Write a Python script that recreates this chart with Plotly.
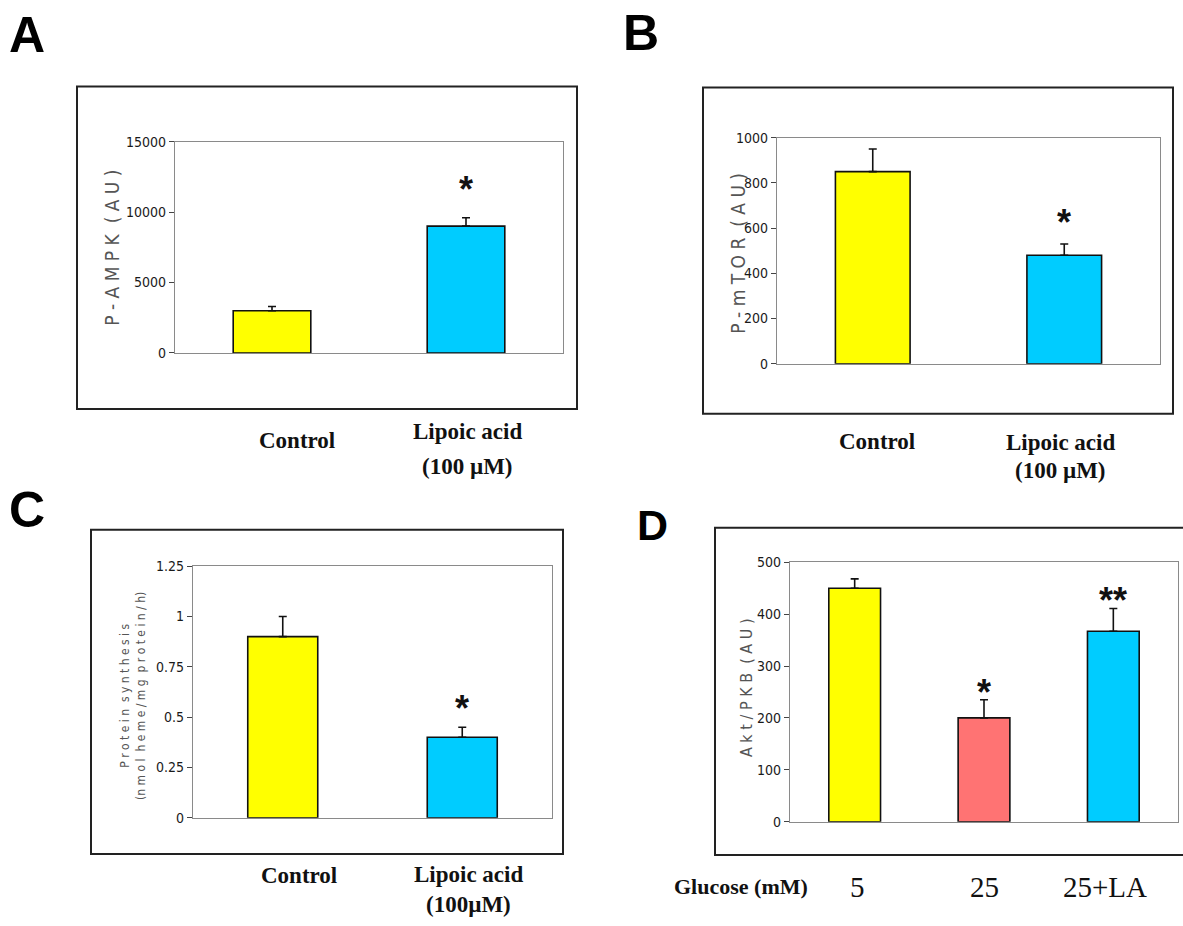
import plotly.graph_objects as go

W, H = 1183, 926

# ---------------- data ----------------
a_categories = ["Control", "Lipoic acid<br>(100 µM)"]
a_values = [3000, 9000]
a_errors = [300, 600]
a_marks = ["", "*"]

b_categories = ["Control", "Lipoic acid<br>(100 µM)"]
b_values = [850, 480]
b_errors = [100, 50]
b_marks = ["", "*"]

c_categories = ["Control", "Lipoic acid<br>(100µM)"]
c_values = [0.9, 0.4]
c_errors = [0.1, 0.05]
c_marks = ["", "*"]

d_categories = ["5", "25", "25+LA"]
d_values = [450, 200, 367]
d_errors = [18, 35, 44]
d_marks = ["", "*", "**"]

a_ticks = [0, 5000, 10000, 15000]
a_ticklabels = ["0", "5000", "10000", "15000"]
b_ticks = [0, 200, 400, 600, 800, 1000]
b_ticklabels = ["0", "200", "400", "600", "800", "1000"]
c_ticks = [0, 0.25, 0.5, 0.75, 1, 1.25]
c_ticklabels = ["0", "0.25", "0.5", "0.75", "1", "1.25"]
d_ticks = [0, 100, 200, 300, 400, 500]
d_ticklabels = ["0", "100", "200", "300", "400", "500"]

YELLOW = "#FFFF00"
CYAN = "#00CCFF"
SALMON = "#FF7373"

fig = go.Figure()


def px(x):
    return x / W


def py(y):
    return 1 - y / H


panels = [
    dict(key="", cats=a_categories, vals=a_values, errs=a_errors, marks=a_marks,
         colors=[YELLOW, CYAN], ticks=a_ticks, ticktext=a_ticklabels, rng=[0, 15000],
         dom_x=[175, 563], dom_y=[351, 136], width=0.4, shift=6,
         lab_dx=[25, 1], lab_y=[[440], [431, 467]]),
    dict(key="2", cats=b_categories, vals=b_values, errs=b_errors, marks=b_marks,
         colors=[YELLOW, CYAN], ticks=b_ticks, ticktext=b_ticklabels, rng=[0, 1000],
         dom_x=[777, 1160], dom_y=[362, 132], width=0.39, shift=-1,
         lab_dx=[4, -4], lab_y=[[441], [442, 471]]),
    dict(key="3", cats=c_categories, vals=c_values, errs=c_errors, marks=c_marks,
         colors=[YELLOW, CYAN], ticks=c_ticks, ticktext=c_ticklabels, rng=[0, 1.25],
         dom_x=[193, 552], dom_y=[824, 568], width=0.39, shift=-4,
         lab_dx=[16, 6], lab_y=[[883], [882, 912]]),
    dict(key="4", cats=d_categories, vals=d_values, errs=d_errors, marks=d_marks,
         colors=[YELLOW, SALMON, CYAN], ticks=d_ticks, ticktext=d_ticklabels, rng=[0, 500],
         dom_x=[790, 1178], dom_y=[828, 564], width=0.4, shift=-15,
         lab_dx=[3, 0, -8], lab_y=[[894], [894], [894]]),
]

tick_font = dict(family="DejaVu Sans Condensed, Liberation Sans Narrow, Liberation Sans", size=14, color="#1a1a1a")

for p in panels:
    k = p["key"]
    xa = "x" + k
    ya = "y" + k
    n = len(p["cats"])
    fig.add_trace(go.Bar(
        x=p["cats"], y=p["vals"], xaxis=xa, yaxis=ya,
        width=p["width"],
        marker=dict(color=p["colors"], line=dict(color="#111", width=1.6)),
        error_y=dict(type="data", symmetric=False, array=p["errs"],
                     arrayminus=[0] * len(p["errs"]), color="#111",
                     thickness=1.6, width=4),
        showlegend=False, hoverinfo="skip",
    ))
    xname = "xaxis" + k
    yname = "yaxis" + k
    fig.layout[xname] = dict(
        type="category", range=[-0.5, n - 0.5],
        domain=[px(p["dom_x"][0]), px(p["dom_x"][1])],
        anchor=ya, showticklabels=False, ticks="",
        showline=True, mirror=True, linecolor="#8a8a8a", linewidth=1.2,
        showgrid=False, zeroline=False, fixedrange=True,
    )
    fig.layout[yname] = dict(
        domain=[py(p["dom_y"][0]), py(p["dom_y"][1])],
        anchor=xa, range=p["rng"], tickvals=p["ticks"], ticktext=p["ticktext"],
        ticks="outside", ticklen=5, tickcolor="#444", tickwidth=1,
        showline=True, mirror=True, linecolor="#8a8a8a", linewidth=1.2,
        showgrid=False, zeroline=False, tickfont=tick_font, fixedrange=True,
    )

    # significance marks (x given as category index)
    for i, (v, e, m) in enumerate(zip(p["vals"], p["errs"], p["marks"])):
        if m:
            fig.add_annotation(x=i, y=v + e, xref=xa, yref=ya, text="<b>" + m + "</b>",
                               showarrow=False, xanchor="center", yanchor="bottom",
                               yshift=p["shift"],
                               font=dict(family="Liberation Sans", size=36, color="#111"))

    # category labels below the panel boxes
    for i, c in enumerate(p["cats"]):
        lines = c.split("<br>")
        for line, ly in zip(lines, p["lab_y"][i]):
            if k == "4":
                txt = line
                fnt = dict(family="Liberation Serif, Times New Roman", size=29, color="#111")
            else:
                txt = "<b>" + line + "</b>"
                fnt = dict(family="Liberation Serif, Times New Roman", size=23, color="#111")
            fig.add_annotation(x=i, y=py(ly), xref=xa, yref="paper", text=txt,
                               xshift=p["lab_dx"][i],
                               showarrow=False, xanchor="center", yanchor="middle", font=fnt)

# Glucose label
fig.add_annotation(x=px(810), y=py(894), xref="paper", yref="paper", text="<b>Glucose (mM)</b>",
                   showarrow=False, xanchor="right", yanchor="middle",
                   font=dict(family="Liberation Serif, Times New Roman", size=22, color="#111"))

# Y-axis titles
title_font = dict(family="DejaVu Sans Condensed, Liberation Sans Narrow, Liberation Sans", size=19, color="#555")
fig.add_annotation(x=px(112), y=py(244), xref="paper", yref="paper", text="P - A M P K  ( A U )",
                   textangle=-90, showarrow=False, xanchor="center", yanchor="middle",
                   font=title_font)
fig.add_annotation(x=px(738), y=py(250), xref="paper", yref="paper", text="P - m T O R  ( A U )",
                   textangle=-90, showarrow=False, xanchor="center", yanchor="middle",
                   font=title_font)
fig.add_annotation(x=px(133), y=py(700), xref="paper", yref="paper",
                   text="P r o t e i n  s y n t h e s i s<br>(n m o l  h e m e / m g  p r o t e i n / h)",
                   textangle=-90, showarrow=False, xanchor="center", yanchor="middle",
                   font=dict(title_font, size=12))
fig.add_annotation(x=px(746), y=py(692), xref="paper", yref="paper", text="A k t / P K B  ( A U )",
                   textangle=-90, showarrow=False, xanchor="center", yanchor="middle",
                   font=dict(title_font, size=16))

# Panel letters
for letter, lx, ly, sz in [("A", 27, 27, 50), ("B", 641, 25, 50), ("C", 27, 511, 50), ("D", 652, 526, 43)]:
    fig.add_annotation(x=px(lx), y=py(ly), xref="paper", yref="paper", text="<b>" + letter + "</b>",
                       showarrow=False, xanchor="center", yanchor="middle",
                       font=dict(family="Liberation Sans, Arial", size=sz, color="#000"))

# Outer panel boxes
for x0, y0, x1, y1 in [(77, 80, 577, 408), (703, 81, 1173, 413), (91, 531, 563, 861), (715, 529, 1190, 862)]:
    fig.add_shape(type="rect", xref="paper", yref="paper",
                  x0=px(x0), x1=px(x1), y0=py(y0), y1=py(y1),
                  line=dict(color="#222", width=2), fillcolor="rgba(0,0,0,0)", layer="below")

fig.update_layout(
    width=W, height=H, autosize=False,
    margin=dict(l=0, r=0, t=0, b=0),
    paper_bgcolor="white", plot_bgcolor="white",
    bargap=0.2,
)

fig.write_html("out.html", config={"displayModeBar": False},
               post_script="document.body.style.margin='0';document.body.style.overflow='hidden';")
